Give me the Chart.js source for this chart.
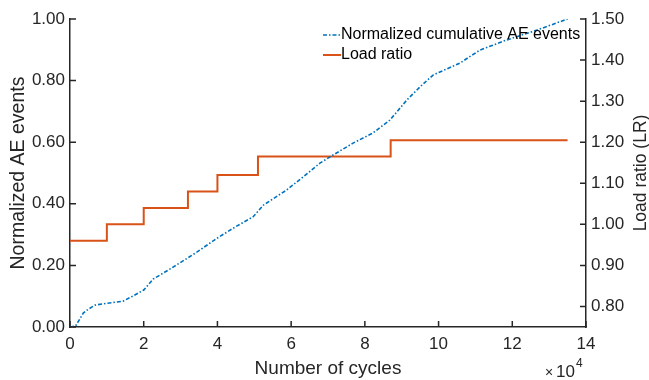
<!DOCTYPE html>
<html>
<head>
<meta charset="utf-8">
<script src="https://cdn.jsdelivr.net/npm/chart.js@4"></script>
<style>
  html, body { margin: 0; padding: 0; background: #fff; }
  #wrap { width: 649px; height: 380px; }
</style>
</head>
<body>
<div id="wrap"><canvas id="chart" width="649" height="380"></canvas></div>
<script>
// cycles in units of 1e4
const aeCycles = [0, 0.15, 0.36, 0.5, 0.68, 1.0, 1.44, 1.7, 2.0, 2.26, 2.6, 2.98, 3.44, 4.0, 4.5, 4.97, 5.25, 5.43, 5.88, 6.3, 6.78, 7.05, 7.68, 8.22, 8.68, 9.14, 9.5, 9.85, 10.58, 11.12, 11.85, 12.67, 13.5];
const aeNormalized = [0, 0.003, 0.045, 0.058, 0.071, 0.077, 0.084, 0.1, 0.12, 0.156, 0.18, 0.208, 0.243, 0.289, 0.326, 0.358, 0.396, 0.41, 0.445, 0.485, 0.532, 0.552, 0.597, 0.63, 0.672, 0.737, 0.78, 0.818, 0.857, 0.899, 0.932, 0.964, 1.0];

const lrCycles = [0, 1.0, 2.0, 3.2, 4.0, 5.1, 8.7, 13.5];
const loadRatio = [0.96, 1.0, 1.04, 1.08, 1.12, 1.165, 1.205, 1.205];

const xTicks = [0, 2, 4, 6, 8, 10, 12, 14];
const leftTicks = [0, 0.2, 0.4, 0.6, 0.8, 1.0];
const rightTicks = [0.8, 0.9, 1.0, 1.1, 1.2, 1.3, 1.4, 1.5];

const blue = '#0072BD';
const orange = '#D95319';
const axisColor = '#262626';
const fontFamily = '"Liberation Sans", Arial, Helvetica, sans-serif';

const toPoints = (xs, ys) => xs.map((x, i) => ({ x: x, y: ys[i] }));

// inward tick marks, legend, right axis title and the x10^4 exponent label
const extras = {
  id: 'extras',
  afterDraw(chart) {
    const ctx = chart.ctx;
    const area = chart.chartArea;
    const s = chart.scales;
    ctx.save();
    ctx.strokeStyle = axisColor;
    ctx.lineWidth = 1.5;
    ctx.beginPath();
    xTicks.forEach(v => {
      const px = s.x.getPixelForValue(v);
      ctx.moveTo(px, area.bottom);
      ctx.lineTo(px, area.bottom - 6);
    });
    leftTicks.forEach(v => {
      const py = s.y.getPixelForValue(v);
      ctx.moveTo(area.left, py);
      ctx.lineTo(area.left + 6, py);
    });
    rightTicks.forEach(v => {
      const py = s.y2.getPixelForValue(v);
      ctx.moveTo(area.right, py);
      ctx.lineTo(area.right - 6, py);
    });
    ctx.stroke();

    // legend
    ctx.font = '16px ' + fontFamily;
    ctx.fillStyle = '#000';
    ctx.textBaseline = 'middle';
    ctx.lineWidth = 1.6;
    ctx.strokeStyle = blue;
    ctx.setLineDash([4, 2, 1.5, 2]);
    ctx.beginPath();
    ctx.moveTo(323, 35);
    ctx.lineTo(341, 35);
    ctx.stroke();
    ctx.setLineDash([]);
    ctx.strokeStyle = orange;
    ctx.lineWidth = 2;
    ctx.beginPath();
    ctx.moveTo(323, 55);
    ctx.lineTo(341, 55);
    ctx.stroke();
    ctx.fillText('Normalized cumulative AE events', 341, 35);
    ctx.fillText('Load ratio', 341, 55);

    // right axis title, reading bottom to top
    ctx.fillStyle = '#262626';
    ctx.save();
    ctx.translate(641, (area.top + area.bottom) / 2);
    ctx.rotate(-Math.PI / 2);
    ctx.textAlign = 'center';
    ctx.font = '17.5px ' + fontFamily;
    ctx.fillText('Load ratio (LR)', 0, 0);
    ctx.restore();

    // exponent
    ctx.textBaseline = 'alphabetic';
    ctx.font = '14px ' + fontFamily;
    ctx.fillText('\u00d7', 545, 377);
    ctx.font = '17px ' + fontFamily;
    ctx.fillText('10', 556, 377);
    ctx.font = '12px ' + fontFamily;
    ctx.fillText('4', 576, 367);
    ctx.restore();
  }
};

new Chart(document.getElementById('chart'), {
  type: 'line',
  data: {
    datasets: [
      {
        label: 'Normalized cumulative AE events',
        data: toPoints(aeCycles, aeNormalized),
        borderColor: blue,
        borderWidth: 1.6,
        borderDash: [4, 2, 1.5, 2],
        pointRadius: 0,
        tension: 0,
        yAxisID: 'y',
      },
      {
        label: 'Load ratio',
        data: toPoints(lrCycles, loadRatio),
        borderColor: orange,
        borderWidth: 2,
        stepped: 'before',
        pointRadius: 0,
        yAxisID: 'y2',
      }
    ]
  },
  options: {
    responsive: false,
    animation: false,
    layout: { padding: { top: 19, right: 0, left: 0, bottom: 0 } },
    plugins: {
      legend: { display: false },
      tooltip: { enabled: false },
    },
    scales: {
      x: {
        type: 'linear',
        min: 0,
        max: 14,
        afterBuildTicks: scale => { scale.ticks = xTicks.map(v => ({ value: v })); },
        afterFit: scale => { scale.height = 53; },
        grid: { display: false, drawTicks: false },
        border: { display: true, color: axisColor, width: 1.5 },
        ticks: { color: '#262626', padding: 7, font: { family: fontFamily, size: 17 } },
        title: { display: true, text: 'Number of cycles', color: '#262626', padding: { top: 0, bottom: 0 }, font: { family: fontFamily, size: 19 } },
      },
      y: {
        position: 'left',
        min: 0,
        max: 1,
        afterBuildTicks: scale => { scale.ticks = leftTicks.map(v => ({ value: v })); },
        afterFit: scale => { scale.width = 70; },
        grid: { display: false, drawTicks: false },
        border: { display: true, color: axisColor, width: 1.5 },
        ticks: { color: '#262626', padding: 5, font: { family: fontFamily, size: 17 }, callback: v => v.toFixed(2) },
        title: { display: true, text: 'Normalized AE events', color: '#262626', padding: { top: 7, bottom: 0 }, font: { family: fontFamily, size: 19.5 } },
      },
      y2: {
        position: 'right',
        min: 0.75,
        max: 1.5,
        afterBuildTicks: scale => { scale.ticks = rightTicks.map(v => ({ value: v })); },
        afterFit: scale => { scale.width = 63; },
        grid: { display: false, drawTicks: false },
        border: { display: true, color: axisColor, width: 1.5 },
        ticks: { color: '#262626', padding: 5, font: { family: fontFamily, size: 17 }, callback: v => v.toFixed(2) },
        title: { display: false },
      }
    }
  },
  plugins: [extras]
});
</script>
</body>
</html>
